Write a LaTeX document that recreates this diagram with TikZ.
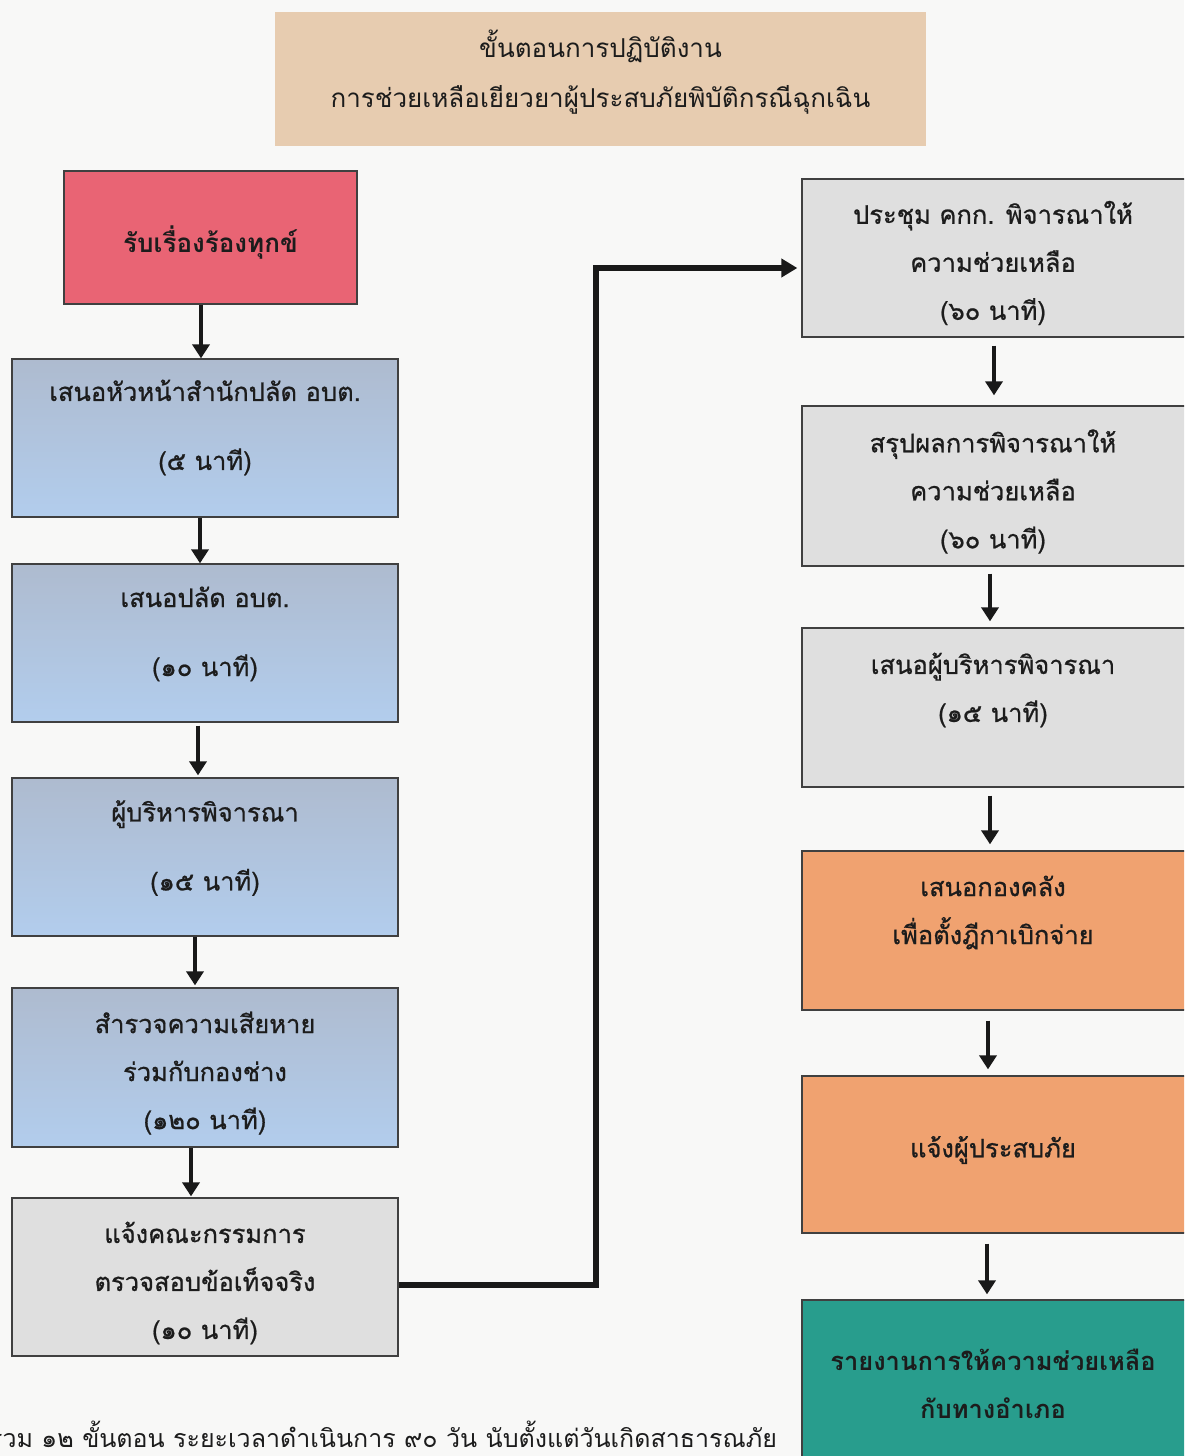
\documentclass[tikz,border=0pt]{standalone}
\usepackage{fontspec}
\setmainfont[Script=Thai]{Loma}
\newfontfamily\medfont[Script=Thai,FakeBold=0.8]{Loma}
\newfontfamily\boldfont[Script=Thai]{Loma Bold}
\usetikzlibrary{arrows.meta}
\definecolor{bgc}{RGB}{248,248,247}
\definecolor{titlec}{RGB}{231,204,176}
\definecolor{redc}{RGB}{233,100,116}
\definecolor{bluetop}{RGB}{174,187,207}
\definecolor{bluebot}{RGB}{178,205,237}
\definecolor{grayc}{RGB}{223,223,223}
\definecolor{orangec}{RGB}{240,162,112}
\definecolor{tealc}{RGB}{40,157,141}
\definecolor{txtc}{RGB}{28,28,28}
\tikzset{
  box/.style={draw=black!75, line width=1.3pt, rectangle, inner sep=0pt},
  leftbox/.style={box, minimum width=386, minimum height=158},
  rightbox/.style={box, minimum width=388, minimum height=158},
  bluebox/.style={leftbox, top color=bluetop, bottom color=bluebot},
  txt/.style={inner sep=0pt, align=center, text=txtc},
  twoline/.style={txt, font=\medfont\fontsize{25.5}{69}\selectfont},
  threeline/.style={txt, font=\medfont\fontsize{25.5}{48}\selectfont},
  boldtxt/.style={txt, font=\boldfont\fontsize{26}{48}\selectfont},
  arr/.style={draw=black!90, line width=4.5pt, -{Triangle[width=17pt,length=14pt]}},
  conn/.style={draw=black!90, line width=5.5pt, line join=miter, -{Triangle[width=18pt,length=16pt]}},
}
\begin{document}
\begin{tikzpicture}[x=1pt,y=-1pt]
\useasboundingbox (0,0) rectangle (1184,1456);
\clip (0,0) rectangle (1184,1456);
\fill[bgc] (0,0) rectangle (1184,1456);

% title
\node[rectangle, fill=titlec, minimum width=651, minimum height=134, inner sep=0pt] (title) at (600.5,79) {};
\node[txt, font=\fontsize{26}{50}\selectfont] (titlet) at ([yshift=7]title.center)
  {ขั้นตอนการปฏิบัติงาน\\การช่วยเหลือเยียวยาผู้ประสบภัยพิบัติกรณีฉุกเฉิน};

% left column boxes
\node[box, fill=redc, minimum width=293, minimum height=133] (b1) at (210.5,237.5) {};
\node[bluebox] (b2) at (205,438) {};
\node[bluebox] (b3) at (205,643) {};
\node[bluebox] (b4) at (205,857) {};
\node[bluebox, minimum height=159] (b5) at (205,1067.5) {};
\node[leftbox, fill=grayc] (b6) at (205,1277) {};

% left column texts
\node[boldtxt] (b1t) at ([yshift=-5.5,xshift=0]b1.center) {รับเรื่องร้องทุกข์};
\node[twoline] (b2t) at ([yshift=10.5]b2.center) {เสนอหัวหน้าสำนักปลัด อบต.\\(๕ นาที)};
\node[twoline] (b3t) at ([yshift=9]b3.center) {เสนอปลัด อบต.\\(๑๐ นาที)};
\node[twoline] (b4t) at ([yshift=9]b4.center) {ผู้บริหารพิจารณา\\(๑๕ นาที)};
\node[threeline] (b5t) at ([yshift=-5.5]b5.center) {สำรวจความเสียหาย\\ร่วมกับกองช่าง\\(๑๒๐ นาที)};
\node[threeline] (b6t) at ([yshift=-6]b6.center) {แจ้งคณะกรรมการ\\ตรวจสอบข้อเท็จจริง\\(๑๐ นาที)};

% right column boxes
\node[rightbox, fill=grayc] (r1) at (996,258) {};
\node[rightbox, fill=grayc, minimum height=160] (r2) at (996,486) {};
\node[rightbox, fill=grayc, minimum height=159] (r3) at (996,707.5) {};
\node[rightbox, fill=orangec, minimum height=159] (r4) at (996,930.5) {};
\node[rightbox, fill=orangec, minimum height=157] (r5) at (996,1154.5) {};
\node[rightbox, fill=tealc, minimum height=158] (r6) at (996,1379) {};

% right column texts
\node[threeline] (r1t) at ([yshift=-5,xshift=-3]r1.center) {ประชุม คกก. พิจารณาให้\\ความช่วยเหลือ\\(๖๐ นาที)};
\node[threeline] (r2t) at ([yshift=-5.5,xshift=-3]r2.center) {สรุปผลการพิจารณาให้\\ความช่วยเหลือ\\(๖๐ นาที)};
\node[threeline] (r3t) at ([yshift=17.5,xshift=-3]r3.center) {เสนอผู้บริหารพิจารณา\\(๑๕ นาที)};
\node[threeline] (r4t) at ([yshift=18,xshift=-3]r4.center) {เสนอกองคลัง\\เพื่อตั้งฎีกาเบิกจ่าย};
\node[threeline] (r5t) at ([yshift=4.5,xshift=-3]r5.center) {แจ้งผู้ประสบภัย};
\node[boldtxt, font=\boldfont\fontsize{25.5}{48}\selectfont] (r6t) at ([yshift=-5,xshift=-3]r6.center) {รายงานการให้ความช่วยเหลือ\\กับทางอำเภอ};

% left arrows
\draw[arr] ([xshift=-9.5]b1.south) -- ([xshift=-4]b2.north);
\draw[arr] ([xshift=-5]b2.south) -- ([xshift=-5]b3.north);
\draw[arr] ([xshift=-7,yshift=-3]b3.south) -- ([xshift=-7,yshift=2]b4.north);
\draw[arr] ([xshift=-10]b4.south) -- ([xshift=-10,yshift=2]b5.north);
\draw[arr] ([xshift=-14]b5.south) -- ([xshift=-14,yshift=1]b6.north);

% right arrows
\draw[arr, shorten <=8pt, shorten >=10pt] ([xshift=-2]r1.south) -- ([xshift=-2]r2.north);
\draw[arr, shorten <=7pt, shorten >=6pt] ([xshift=-6]r2.south) -- ([xshift=-6]r3.north);
\draw[arr, shorten <=8pt, shorten >=6pt] ([xshift=-6]r3.south) -- ([xshift=-6]r4.north);
\draw[arr, shorten <=10pt, shorten >=6pt] ([xshift=-8]r4.south) -- ([xshift=-8]r5.north);
\draw[arr, shorten <=10pt, shorten >=5pt] ([xshift=-9]r5.south) -- ([xshift=-9]r6.north);

% connector
\coordinate (bend) at (596,268);
\draw[conn, shorten >=4pt] ([yshift=-8]b6.east) -| (bend) -- (bend -| r1.west);

% footer
\node[anchor=base east, inner sep=0pt, text=txtc, font=\fontsize{25}{30}\selectfont] (foot) at (777,1447)
  {รวม ๑๒ ขั้นตอน ระยะเวลาดำเนินการ ๙๐ วัน นับตั้งแต่วันเกิดสาธารณภัย};
\end{tikzpicture}
\end{document}
